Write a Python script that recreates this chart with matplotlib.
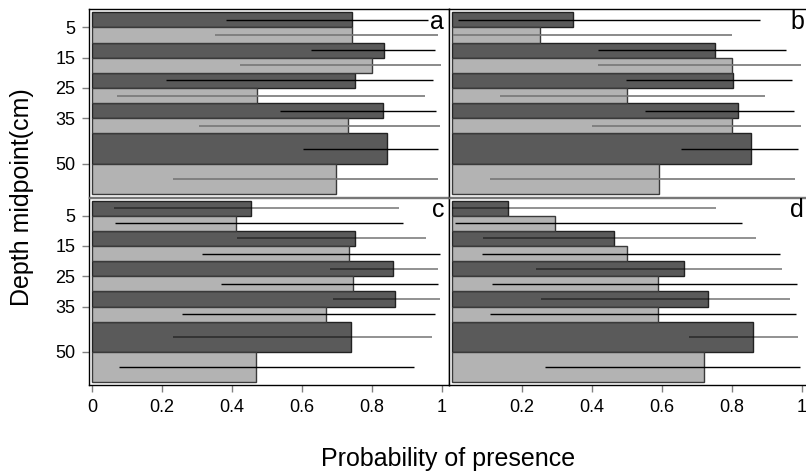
import matplotlib
matplotlib.use("Agg")
import matplotlib.pyplot as plt

plt.rcParams["font.family"] = ["Liberation Sans", "DejaVu Sans"]

# ========================
# 1. Data
# ========================

depth_labels = [5, 15, 25, 35, 50]
depth_edges = [0, 10, 20, 30, 40, 60]
panel_names = ["a", "b", "c", "d"]

# dark bars (upper half of each depth bin)
dark_prob = {
    "a": [0.742, 0.835, 0.752, 0.831, 0.843],
    "b": [0.344, 0.750, 0.802, 0.817, 0.855],
    "c": [0.453, 0.751, 0.860, 0.865, 0.739],
    "d": [0.159, 0.462, 0.662, 0.732, 0.860],
}
dark_lo = {
    "a": [0.382, 0.626, 0.210, 0.537, 0.603],
    "b": [0.017, 0.416, 0.496, 0.550, 0.655],
    "c": [0.062, 0.413, 0.679, 0.687, 0.231],
    "d": [0.000, 0.087, 0.238, 0.254, 0.676],
}
dark_hi = {
    "a": [0.960, 0.981, 0.973, 0.983, 0.988],
    "b": [0.880, 0.953, 0.972, 0.977, 0.990],
    "c": [0.877, 0.953, 0.990, 0.993, 0.971],
    "d": [0.753, 0.869, 0.944, 0.967, 0.990],
}

# light bars (lower half of each depth bin)
light_prob = {
    "a": [0.744, 0.801, 0.470, 0.731, 0.698],
    "b": [0.252, 0.800, 0.500, 0.800, 0.590],
    "c": [0.411, 0.734, 0.745, 0.667, 0.468],
    "d": [0.294, 0.500, 0.588, 0.588, 0.721],
}
light_lo = {
    "a": [0.351, 0.421, 0.070, 0.304, 0.231],
    "b": [0.003, 0.416, 0.135, 0.400, 0.108],
    "c": [0.065, 0.314, 0.369, 0.257, 0.075],
    "d": [0.008, 0.084, 0.114, 0.108, 0.265],
}
light_hi = {
    "a": [0.988, 0.997, 0.952, 0.993, 0.988],
    "b": [0.800, 0.996, 0.893, 0.996, 0.981],
    "c": [0.888, 0.993, 0.990, 0.980, 0.921],
    "d": [0.829, 0.937, 0.985, 0.983, 0.993],
}

# ========================
# 2. Figure layout
# ========================

W, H = 806, 476
fig = plt.figure(figsize=(W / 100, H / 100), dpi=100)

pw = 360 / W
ph = 187.5 / H
lefts = [89.3 / W, 449.3 / W]
bottoms = [(H - 196.7) / H, (H - 385) / H]

dark_col = "#5a5a5a"
light_col = "#b3b3b3"
tick_col = "#808080"

upper = [(depth_edges[i], depth_labels[i]) for i in range(len(depth_labels))]
lower = [(depth_labels[i], depth_edges[i + 1]) for i in range(len(depth_labels))]

for k, name in enumerate(panel_names):
    row, col = divmod(k, 2)
    ax = fig.add_axes([lefts[col], bottoms[row], pw, ph])

    yc_d = [(a + b) / 2 for a, b in upper]
    h_d = [b - a for a, b in upper]
    yc_l = [(a + b) / 2 for a, b in lower]
    h_l = [b - a for a, b in lower]

    ax.barh(yc_d, dark_prob[name], height=h_d, color=dark_col,
            edgecolor="#222222", linewidth=1, zorder=2)
    ax.barh(yc_l, light_prob[name], height=h_l, color=light_col,
            edgecolor="#3a3a3a", linewidth=1, zorder=2)

    if row == 0:
        ax.hlines(yc_d, dark_lo[name], dark_hi[name], color="black", lw=1.0, zorder=3)
        ax.hlines(yc_l, light_lo[name], light_hi[name], color="#777777", lw=1.2, zorder=3)
    else:
        ax.hlines(yc_d, dark_lo[name], dark_hi[name], color="black", alpha=0.5, lw=1.2, zorder=3)
        ax.hlines(yc_l, light_lo[name], light_hi[name], color="black", lw=1.0, zorder=3)

    ax.set_xlim(-0.0086, 1.021)
    ax.set_ylim(60.9, -1)

    ax.tick_params(length=5, width=1, color=tick_col, labelsize=13)
    if col == 0:
        ax.set_yticks(depth_labels)
        ax.tick_params(axis="y", pad=5)
    else:
        ax.set_yticks([])
    if row == 1:
        if col == 0:
            ax.set_xticks([0, 0.2, 0.4, 0.6, 0.8, 1])
            ax.set_xticklabels(["0", "0.2", "0.4", "0.6", "0.8", "1"])
        else:
            ax.set_xticks([0.2, 0.4, 0.6, 0.8, 1])
            ax.set_xticklabels(["0.2", "0.4", "0.6", "0.8", "1"])
        ax.tick_params(axis="x", pad=5)
    else:
        ax.set_xticks([])

    for s in ax.spines.values():
        s.set_color("black")
        s.set_linewidth(1)
    # the seam between the upper and lower panels is drawn in grey
    if row == 0:
        ax.spines["bottom"].set_color("#777777")
    else:
        ax.spines["top"].set_color("#777777")

    ax.text(1.006, -0.9, name, ha="right", va="top", fontsize=18, zorder=4)

fig.text(22 / W, 1 - 197 / H, "Depth midpoint(cm)", rotation=90,
         ha="center", va="center", fontsize=18)
fig.text(448 / W, 1 - 459 / H, "Probability of presence",
         ha="center", va="center", fontsize=18)

fig.savefig("out.png", dpi=100)
